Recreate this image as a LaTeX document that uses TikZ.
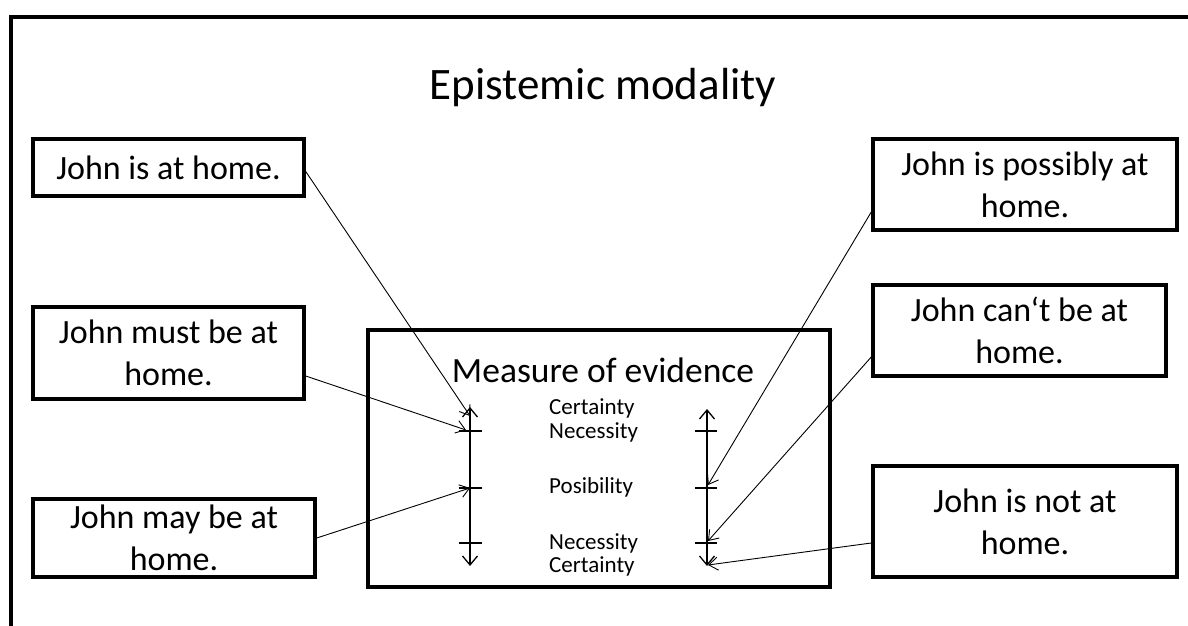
\documentclass[tikz,border=0pt]{standalone}
\usepackage{fontspec}
\setmainfont{Carlito}
\usetikzlibrary{arrows.meta,calc}
\begin{document}
\begin{tikzpicture}[x=1pt,y=-1pt,
  frame/.style={line width=4pt},
  sbox/.style={draw,line width=3.5pt,align=center,inner sep=0pt,font=\fontsize{34}{42}\selectfont},
  ttl/.style={font=\fontsize{45}{50}\selectfont,inner sep=0pt},
  lbl/.style={font=\fontsize{23}{26}\selectfont,inner sep=0pt,anchor=west},
  axis/.style={line width=1.3pt,{Straight Barb[length=9pt,width=15pt]}-{Straight Barb[length=9pt,width=15pt]}},
  tick/.style={line width=1.3pt},
  conn/.style={line width=0.9pt,-{Straight Barb[length=9pt,width=13pt]}}]
\useasboundingbox (0,0) rectangle (1188,626);
\fill[white] (0,0) rectangle (1188,626);
\begin{scope}
\clip (0,0) rectangle (1188,626);
\draw[frame] (11,640) -- (11,17) -- (1200,17);
\end{scope}
\node[ttl] (title) at (603,88) {Epistemic modality};
\node[sbox,minimum width=271pt,minimum height=57pt] (b1) at (168.5,167.5) {John is at home.};
\node[sbox,minimum width=271pt,minimum height=92pt] (b2) at (168.5,353) {John must be at\\home.};
\node[sbox,minimum width=282pt,minimum height=78pt] (b3) at (174,538) {John may be at\\home.};
\node[sbox,minimum width=462pt,minimum height=257pt] (mid) at (599,458.5) {};
\node[font=\fontsize{35.5}{42}\selectfont,inner sep=0pt] (mtitle) at (603,370) {Measure of evidence};
\node[sbox,minimum width=304pt,minimum height=91pt] (b4) at (1025,184.5) {John is possibly at\\home.};
\node[sbox,minimum width=293pt,minimum height=91pt] (b5) at (1019.5,330.5) {John can‘t be at\\home.};
\node[sbox,minimum width=304pt,minimum height=111pt] (b6) at (1025,521.5) {John is not at\\home.};
\node[lbl] (c1) at (549,408) {Certainty};
\node[lbl] (n1) at (549,432) {Necessity};
\node[lbl] (p1) at (549,487) {Posibility};
\node[lbl] (n2) at (549,543) {Necessity};
\node[lbl] (c2) at (549,566) {Certainty};
\coordinate (L0) at (470,407);
\coordinate (L1) at (470,431);
\coordinate (L2) at (470,488);
\coordinate (L3) at (470,543);
\coordinate (L4) at (470,566);
\coordinate (R0) at (707,409);
\coordinate (R1) at (707,431);
\coordinate (R2) at (707,488);
\coordinate (R3) at (707,543);
\coordinate (R4) at (707,566);
\draw[axis] (L0) -- (L4);
\draw[axis] (R0) -- (R4);
\foreach \p in {L1,L2,L3} \draw[tick] ([xshift=-11pt]\p) -- ([xshift=12pt]\p);
\foreach \p in {R1,R2,R3} \draw[tick] ([xshift=-12pt]\p) -- ([xshift=10pt]\p);
\coordinate (e1) at (470,416);
\coordinate (e2) at (466,430);
\coordinate (e4) at (708,485);
\coordinate (e5) at (708,541);
\coordinate (e6) at (708,565);
\draw[conn] ([yshift=-4pt]b1.east) -- (e1);
\draw[conn] ([yshift=-23pt]b2.east) -- (e2);
\draw[conn] (b3.east) -- (L2);
\draw[conn] ([yshift=-27.5pt]b4.west) -- (e4);
\draw[conn] ([yshift=-26.5pt]b5.west) -- (e5);
\draw[conn] ([yshift=-21.5pt]b6.west) -- (e6);
\end{tikzpicture}
\end{document}
